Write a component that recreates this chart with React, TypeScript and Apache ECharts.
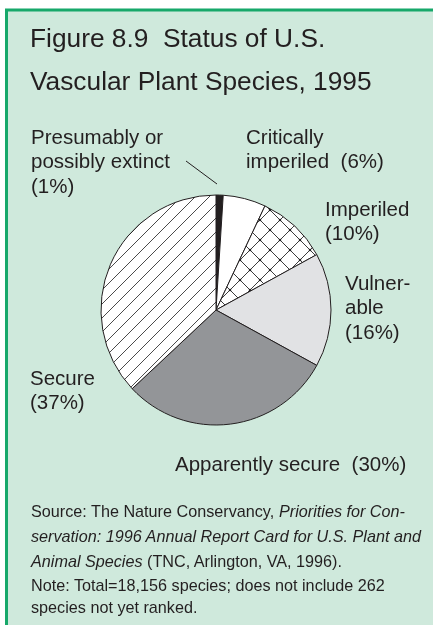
import React, { useEffect, useRef } from "react";
import * as echarts from "echarts";

// ---- data ----
const categories = [
  "Presumably or possibly extinct",
  "Critically imperiled",
  "Imperiled",
  "Vulnerable",
  "Apparently secure",
  "Secure",
];
const values = [1, 6, 10, 16, 30, 37];
// how each category's label is broken into lines on the chart
const labelNameLines = [
  ["Presumably or", "possibly extinct"],
  ["Critically", "imperiled"],
  ["Imperiled"],
  ["Vulner-", "able"],
  ["Apparently secure"],
  ["Secure"],
];
const percentOnSameLine = [false, true, false, false, true, false];

const titleLines = ["Figure 8.9  Status of U.S.", "Vascular Plant Species, 1995"];
const footerLines = [
  "Source: The Nature Conservancy, {i|Priorities for Con-}",
  "{i|servation: 1996 Annual Report Card for U.S. Plant and}",
  "{i|Animal Species} (TNC, Arlington, VA, 1996).",
  "Note: Total=18,156 species; does not include 262",
  "species not yet ranked.",
];

// ---- layout / style ----
const FONT = '"Liberation Sans", Arial, Helvetica, sans-serif';
const TEXT = "#231f20";
const labelPos: [number, number][] = [
  [31, 136],
  [246, 136],
  [325, 208],
  [345, 282],
  [175, 463],
  [30, 377],
];
const footerY = [511, 536, 561, 585, 607];

function makeCrossHatch() {
  const s = 20;
  const c = document.createElement("canvas");
  c.width = s;
  c.height = s;
  const g = c.getContext("2d")!;
  g.fillStyle = "#ffffff";
  g.fillRect(0, 0, s, s);
  g.strokeStyle = "#3c3c3c";
  g.lineWidth = 1;
  g.beginPath();
  g.moveTo(-2, -2);
  g.lineTo(s + 2, s + 2);
  g.moveTo(s + 2, -2);
  g.lineTo(-2, s + 2);
  g.stroke();
  g.fillStyle = "#222";
  const pts = [
    [s / 2, s / 2],
    [0, 0],
    [s, 0],
    [0, s],
    [s, s],
  ];
  pts.forEach(([x, y]) => {
    g.beginPath();
    g.arc(x, y, 1.3, 0, Math.PI * 2);
    g.fill();
  });
  return c;
}

function makeHatch() {
  const s = 14;
  const c = document.createElement("canvas");
  c.width = s;
  c.height = s;
  const g = c.getContext("2d")!;
  g.fillStyle = "#ffffff";
  g.fillRect(0, 0, s, s);
  g.strokeStyle = "#4a4a4a";
  g.lineWidth = 1;
  g.beginPath();
  g.moveTo(-2, s + 2);
  g.lineTo(s + 2, -2);
  g.moveTo(-s / 2 - 2, s / 2 + 2);
  g.lineTo(s / 2 + 2, -s / 2 - 2);
  g.moveTo(s / 2 - 2, s * 1.5 + 2);
  g.lineTo(s * 1.5 + 2, s / 2 - 2);
  g.stroke();
  return c;
}

export default function App() {
  const ref = useRef<HTMLDivElement>(null);

  useEffect(() => {
    if (!ref.current) return;
    const chart = echarts.init(ref.current, null, { renderer: "svg" });

    const cross = makeCrossHatch();
    const hatch = makeHatch();
    const fills: any[] = [
      TEXT,
      "#ffffff",
      { image: cross, repeat: "repeat", imageWidth: 20, imageHeight: 20 },
      "#e1e2e4",
      "#939598",
      { image: hatch, repeat: "repeat", imageWidth: 14, imageHeight: 14 },
    ];

    const graphics: any[] = [
      {
        type: "rect",
        z: -10,
        silent: true,
        shape: { x: 6.5, y: 10, width: 700, height: 900 },
        style: { fill: "#cfe9dc", stroke: "#17a86a", lineWidth: 3 },
      },
    ];
    titleLines.forEach((t, i) => {
      graphics.push({
        type: "text",
        x: 30,
        y: 38 + i * 42.5,
        style: {
          text: t,
          font: `26.3px ${FONT}`,
          fill: TEXT,
          verticalAlign: "middle",
          align: "left",
        },
      });
    });
    categories.forEach((_, k) => {
      const lines = labelNameLines[k].slice();
      const pct = `(${values[k]}%)`;
      if (percentOnSameLine[k]) lines[lines.length - 1] += "  " + pct;
      else lines.push(pct);
      lines.forEach((ln, i) => {
        graphics.push({
          type: "text",
          x: labelPos[k][0],
          y: labelPos[k][1] + i * 24.5,
          style: {
            text: ln,
            font: `20.5px ${FONT}`,
            fill: TEXT,
            verticalAlign: "middle",
            align: "left",
          },
        });
      });
    });
    graphics.push({
      type: "line",
      shape: { x1: 186, y1: 161, x2: 217, y2: 184 },
      style: { stroke: TEXT, lineWidth: 1 },
    });
    footerLines.forEach((t, i) => {
      graphics.push({
        type: "text",
        x: 31,
        y: footerY[i],
        style: {
          text: t,
          font: `16.2px ${FONT}`,
          fill: TEXT,
          verticalAlign: "middle",
          align: "left",
          rich: {
            i: { fontStyle: "italic", fontSize: 16.2, fontFamily: FONT, fill: TEXT },
          },
        },
      });
    });

    chart.setOption({
      animation: false,
      graphic: graphics,
      series: [
        {
          type: "pie",
          center: [216, 310],
          radius: 115,
          startAngle: 90,
          clockwise: true,
          silent: true,
          label: { show: false },
          labelLine: { show: false },
          itemStyle: { borderColor: TEXT, borderWidth: 1 },
          data: categories.map((name, i) => ({
            name,
            value: values[i],
            itemStyle: { color: fills[i] },
          })),
        },
      ],
    });

    return () => chart.dispose();
  }, []);

  return (
    <div
      ref={ref}
      style={{ position: "fixed", left: 0, top: 0, width: 433, height: 625 }}
    />
  );
}
